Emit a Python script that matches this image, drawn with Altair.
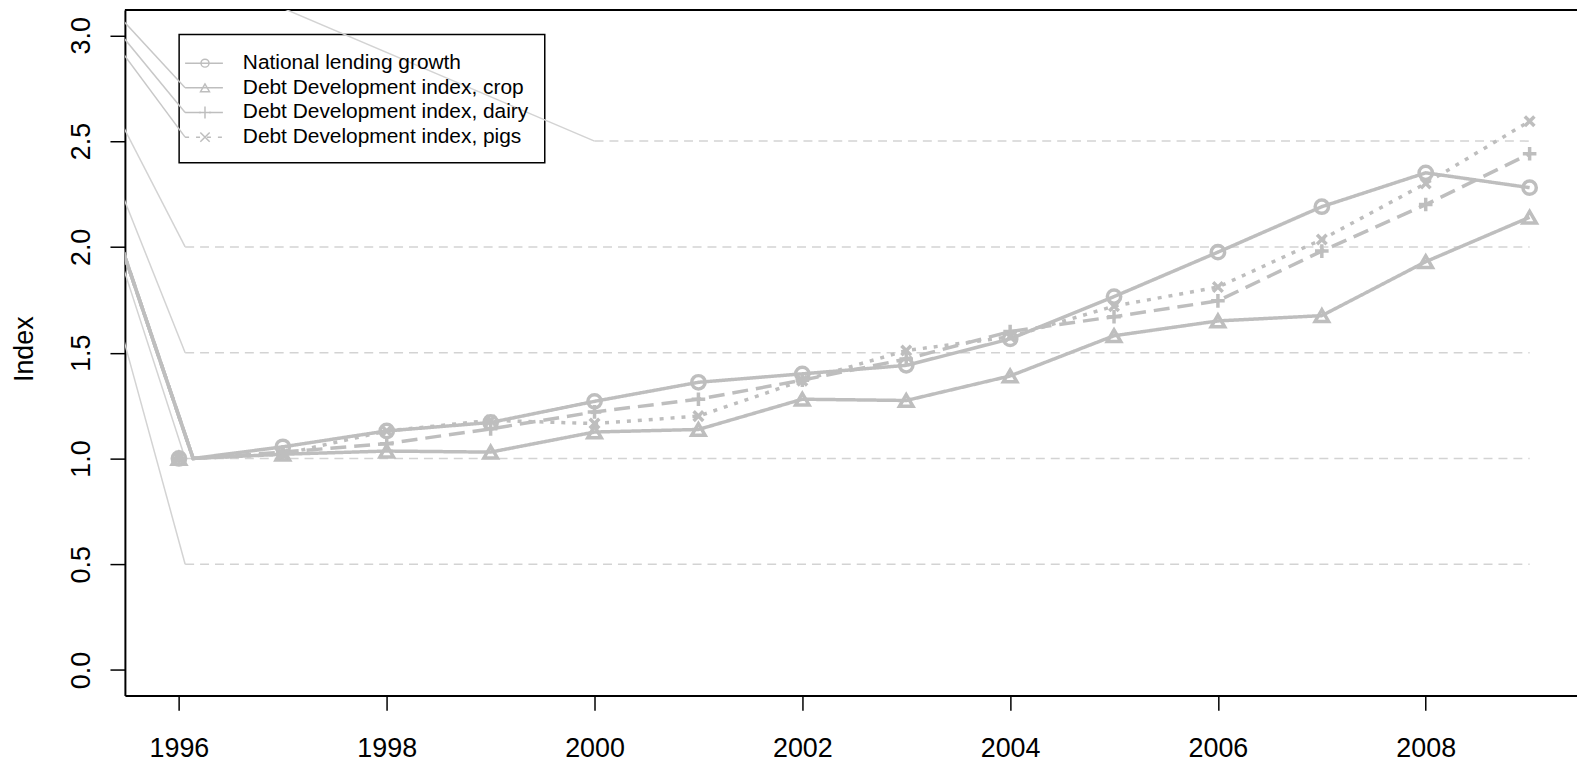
import altair as alt
import pandas as pd

# ---------------- data ----------------
years = list(range(1996, 2010))
series_names = [
    "National lending growth",
    "Debt Development index, crop",
    "Debt Development index, dairy",
    "Debt Development index, pigs",
]
national = [1.00, 1.055, 1.13, 1.17, 1.27, 1.36, 1.40, 1.44, 1.565, 1.765, 1.975, 2.19, 2.35, 2.28]
crop = [1.00, 1.02, 1.035, 1.03, 1.125, 1.137, 1.28, 1.274, 1.39, 1.58, 1.65, 1.675, 1.93, 2.14]
dairy = [1.00, 1.03, 1.07, 1.14, 1.22, 1.28, 1.37, 1.47, 1.60, 1.67, 1.745, 1.98, 2.20, 2.44]
pigs = [1.00, 1.02, 1.13, 1.18, 1.165, 1.20, 1.368, 1.51, 1.575, 1.72, 1.81, 2.035, 2.30, 2.594]
series_values = [national, crop, dairy, pigs]

# first drawn vertex of each series line (the line starts slightly right of 1996)
line_start_year = 1996.137

# dashed reference lines
grid_levels = [0.5, 1.0, 1.5, 2.0, 2.5]
grid_start = [1996.06, 1996.06, 1996.06, 1996.06, 2000.0]
grid_end = [2009.0, 2009.0, 2009.0, 2009.0, 2009.0]

# stray lead-in lines of the original all come from one point up-left of the plot
origin_year, origin_value = 1994.278, 3.698

x_ticks = [1996, 1998, 2000, 2002, 2004, 2006, 2008]
y_ticks = [0.0, 0.5, 1.0, 1.5, 2.0, 2.5, 3.0]

# ---------------- styles ----------------
GRAY = "#BEBEBE"
LIGHT = "#D3D3D3"
FONT = "Liberation Sans"
W, H = 1459.5, 689
x_dom = [1995.48, 2009.456]
y_dom = [-0.12, 3.12]

dash_range = [[1, 0], [1, 0], [16, 8], [4, 7]]
shape_range = [
    "circle",
    "triangle-up",
    "M-1,0L1,0M0,-1L0,1",
    "M-0.7,-0.7L0.7,0.7M-0.7,0.7L0.7,-0.7",
]
point_size = [180, 190, 330, 400]
legend_size = [64, 80, 150, 180]

# ---------------- tables ----------------
line_rows, point_rows = [], []
for i, (name, vals) in enumerate(zip(series_names, series_values)):
    line_rows.append({"series": name, "x": origin_year, "y": origin_value, "o": 0})
    line_rows.append({"series": name, "x": line_start_year, "y": vals[0], "o": 1})
    for k in range(1, len(years)):
        line_rows.append({"series": name, "x": years[k], "y": vals[k], "o": k + 1})
    for yr, v in zip(years, vals):
        point_rows.append({"series": name, "x": yr, "y": v})
lines_df = pd.DataFrame(line_rows)
points_df = pd.DataFrame(point_rows)

grid_df = pd.DataFrame({"y": grid_levels, "x": grid_start, "x2": grid_end})
lead_df = pd.DataFrame({
    "x": [origin_year] * len(grid_levels),
    "y": [origin_value] * len(grid_levels),
    "x2": grid_start,
    "y2": grid_levels,
})

dash_scale = alt.Scale(domain=series_names, range=dash_range)
shape_scale = alt.Scale(domain=series_names, range=shape_range)
size_scale = alt.Scale(domain=series_names, range=point_size)

xs = alt.Scale(domain=x_dom, nice=False, zero=False)
ys = alt.Scale(domain=y_dom, nice=False, zero=False)

x_axis = alt.Axis(
    values=x_ticks, format="d", title=None, grid=False,
    tickSize=15, tickWidth=1.5, tickColor="black",
    domainColor="black", domainWidth=2,
    labelFont=FONT, labelFontSize=27, labelColor="black",
    labelBaseline="alphabetic", labelPadding=46,
    labelFlush=False, labelOverlap=False,
)
y_axis = alt.Axis(
    values=y_ticks, format=".1f", title="Index", grid=False,
    tickSize=15, tickWidth=1.5, tickColor="black",
    domainColor="black", domainWidth=2,
    labelFont=FONT, labelFontSize=27, labelColor="black",
    labelAngle=270, labelAlign="center", labelBaseline="alphabetic",
    labelPadding=21, labelFlush=False, labelOverlap=False,
    titleFont=FONT, titleFontSize=27, titleFontWeight="normal", titleColor="black",
    titleAngle=270, titleAlign="center", titleBaseline="alphabetic",
    titleX=-92.5, titleY=340.5,
)

one = pd.DataFrame({"a": [0]})

grid = alt.Chart(grid_df).mark_rule(color=LIGHT, strokeWidth=1.5, strokeDash=[9, 6]).encode(
    x=alt.X("x:Q", scale=xs, axis=x_axis),
    x2="x2:Q",
    y=alt.Y("y:Q", scale=ys, axis=y_axis),
)

# top side of the plot box (the right side lies outside the window)
top_border = alt.Chart(one).mark_rule(color="black", strokeWidth=2).encode(
    x=alt.value(0), x2=alt.value(W), y=alt.value(0)
)

leg_box = alt.Chart(one).mark_rect(
    fill="white", stroke="black", strokeWidth=1.5
).encode(
    x=alt.value(54.5), x2=alt.value(422.0), y=alt.value(24.7), y2=alt.value(153.7)
)

leads = alt.Chart(lead_df).mark_rule(color=LIGHT, strokeWidth=1.5, clip=True).encode(
    x=alt.X("x:Q", scale=xs, axis=x_axis), y=alt.Y("y:Q", scale=ys, axis=y_axis),
    x2="x2:Q", y2="y2:Q"
)

lines = alt.Chart(lines_df).mark_line(color=GRAY, strokeWidth=3.5, clip=True).encode(
    x=alt.X("x:Q", scale=xs, axis=x_axis),
    y=alt.Y("y:Q", scale=ys, axis=y_axis),
    detail="series:N",
    order="o:Q",
    strokeDash=alt.StrokeDash("series:N", scale=dash_scale, legend=None),
)

points = alt.Chart(points_df).mark_point(
    color=GRAY, filled=False, strokeWidth=3.5, opacity=1
).encode(
    x=alt.X("x:Q", scale=xs, axis=x_axis),
    y=alt.Y("y:Q", scale=ys, axis=y_axis),
    shape=alt.Shape("series:N", scale=shape_scale, legend=None),
    size=alt.Size("series:N", scale=size_scale, legend=None),
)

# legend drawn by hand (pixel positions inside the plot area)
leg_row0, leg_dy = 53.5, 24.8
origin_px = (-125.5, -123.0)
legend_layers = []
for i, name in enumerate(series_names):
    ly = leg_row0 + i * leg_dy
    if i > 0:
        legend_layers.append(
            alt.Chart(one).mark_rule(color="#C8C8C8", strokeWidth=1.5, clip=True).encode(
                x=alt.value(origin_px[0]), y=alt.value(origin_px[1]),
                x2=alt.value(60.5), y2=alt.value(ly),
            )
        )
    legend_layers.append(
        alt.Chart(one).mark_rule(color=GRAY, strokeWidth=1.5, strokeDash=dash_range[i]).encode(
            x=alt.value(60.5), x2=alt.value(98.5), y=alt.value(ly)
        )
    )
    legend_layers.append(
        alt.Chart(one).mark_point(
            color=GRAY, filled=False, strokeWidth=1.5, opacity=1,
            shape=shape_range[i], size=legend_size[i],
        ).encode(x=alt.value(80.5), y=alt.value(ly))
    )
    legend_layers.append(
        alt.Chart(one).mark_text(
            align="left", baseline="middle", font=FONT, fontSize=21, color="black"
        ).encode(x=alt.value(118.5), y=alt.value(ly), text=alt.value(name))
    )

chart = alt.layer(
    grid, top_border, leg_box, leads, lines, points, *legend_layers
).properties(
    width=W, height=H,
    autosize=alt.AutoSizeParams(type="none"),
    padding={"left": 117.5, "top": 0, "right": 0, "bottom": 67},
    background="white",
).configure_view(stroke=None)

chart.save("out.html", embed_options={"renderer": "svg", "actions": False})
